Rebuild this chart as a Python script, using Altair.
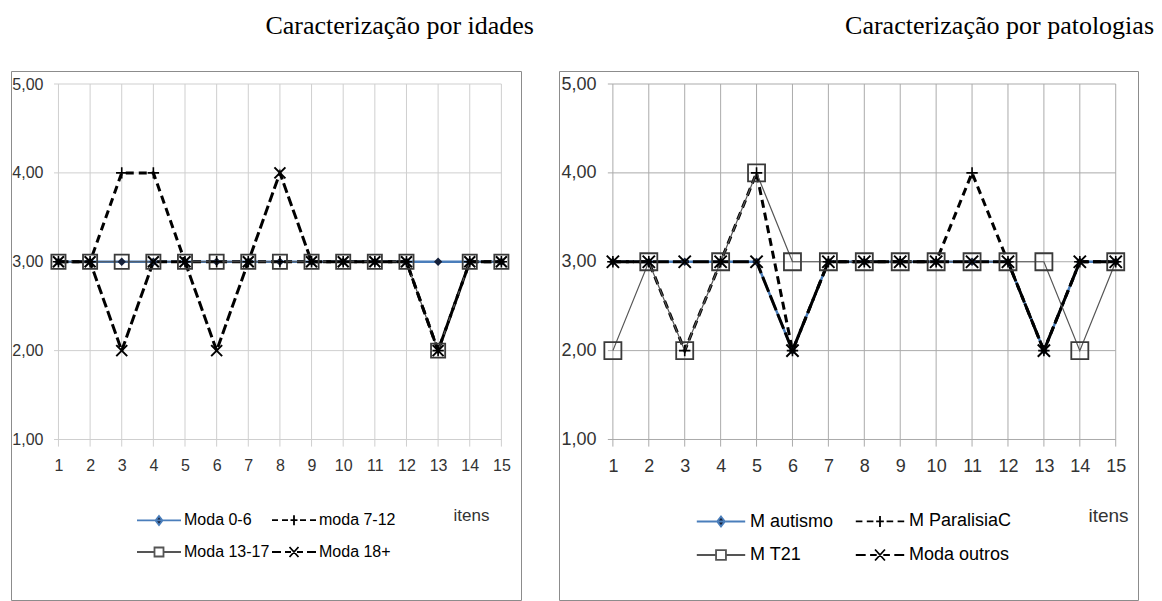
import altair as alt
import pandas as pd

# ---------------- data ----------------
itens = [1, 2, 3, 4, 5, 6, 7, 8, 9, 10, 11, 12, 13, 14, 15]
y_ticks = [1, 2, 3, 4, 5]

idades_series = ["Moda 0-6", "moda 7-12", "Moda 13-17", "Moda 18+"]
moda_0_6 = [3, 3, 3, 3, 3, 3, 3, 3, 3, 3, 3, 3, 3, 3, 3]
moda_7_12 = [3, 3, 4, 4, 3, 3, 3, 3, 3, 3, 3, 3, 2, 3, 3]
moda_13_17 = [3, 3, 3, 3, 3, 3, 3, 3, 3, 3, 3, 3, 2, 3, 3]
moda_18 = [3, 3, 2, 3, 3, 2, 3, 4, 3, 3, 3, 3, 2, 3, 3]

patologias_series = ["M autismo", "M ParalisiaC", "M T21", "Moda outros"]
m_autismo = [3, 3, 3, 3, 3, 2, 3, 3, 3, 3, 3, 3, 2, 3, 3]
m_paralisia = [3, 3, 2, 3, 4, 2, 3, 3, 3, 3, 4, 3, 2, 3, 3]
m_t21 = [2, 3, 2, 3, 4, 3, 3, 3, 3, 3, 3, 3, 3, 2, 3]
moda_outros = [3, 3, 3, 3, 3, 2, 3, 3, 3, 3, 3, 3, 2, 3, 3]


def long_df(names, arrays):
    rows = []
    for n, arr in zip(names, arrays):
        for i, v in zip(itens, arr):
            rows.append({"item": i, "valor": v, "serie": n})
    return pd.DataFrame(rows)


df_idades = long_df(idades_series, [moda_0_6, moda_7_12, moda_13_17, moda_18])
df_pat = long_df(patologias_series, [m_autismo, m_paralisia, m_t21, moda_outros])

# ---------------- styles ----------------
BLUE = "#4a7ebb"
NAVY = "#16213a"
PLUS = "M-1,0H1M0,-1V1"
XSHAPE = "M-1,-1L1,1M-1,1L1,-1"

LEG_PATHS = [
    "M-2.2,0H2.2M0,-0.45L0.35,0L0,0.45L-0.35,0Z",
    "M-2.2,0H-1.6M-1.2,0H-0.6M-0.35,0H0.35M0.6,0H1.2M1.6,0H2.2M0,-0.5V0.5",
    "M-2.2,0H-0.45M0.45,0H2.2M-0.45,-0.45H0.45V0.45H-0.45Z",
    "M-2.2,0H-1.3M-0.9,0H-0.3M0.3,0H0.9M1.3,0H2.2M-0.45,-0.5L0.45,0.5M-0.45,0.5L0.45,-0.5",
]
LEG_STROKES = [BLUE, "black", "#555555", "black"]
LEG_FILLS = [NAVY, "transparent", "white", "transparent"]
# legend is laid out column by column: order entries so rows read 0,1 / 2,3
LEG_ORDER = [0, 2, 1, 3]

XS_DOMAIN = [-0.5, 15.62]
YS_DOMAIN = [-0.806, 5.1463]
VIEW_H = 529


def panel(df, names, width, title, title_dx, font, tick_size, grid_color, dash_b, dash_d,
          sq_size, x_size, leg_x, leg_col_pad, leg_size, leg_label_off, leg_font_size,
          ylab_offset, itens_x, itens_size):
    xs = alt.Scale(domain=XS_DOMAIN, nice=False, zero=False)
    ys = alt.Scale(domain=YS_DOMAIN, nice=False, zero=False)

    AY = alt.Axis(
        values=y_ticks, grid=False, domain=False, ticks=False, title=None,
        labelExpr="replace(format(datum.value, '.2f'), '.', ',')",
        labelFont=font, labelFontSize=tick_size, labelColor="#333333",
        labelOverlap=False, offset=ylab_offset, labelPadding=5)
    AX = alt.Axis(
        values=itens, grid=False, domain=False, ticks=False, format="d",
        labelFont=font, labelFontSize=tick_size, labelColor="#333333",
        labelOverlap=False, labelFlush=False, labelPadding=4,
        offset=-147, title="itens", titleFont=font, titleFontSize=itens_size,
        titleFontWeight="normal", titleColor="#333333",
        titleX=itens_x, titleY=62, titleAlign="center",
        titleBaseline="middle", titleAnchor="start")

    hgrid = alt.Chart(pd.DataFrame({"v": y_ticks})).mark_rule(
        color=grid_color, strokeWidth=1
    ).encode(
        y=alt.Y("v:Q", scale=ys, axis=AY),
        x=alt.XDatum(0.86, axis=AX), x2=alt.datum(15),
    )
    vgrid = alt.Chart(pd.DataFrame({"item": itens})).mark_rule(
        color=grid_color, strokeWidth=1
    ).encode(
        x=alt.X("item:Q", scale=xs, axis=AX),
        y=alt.YDatum(0.92, axis=AY), y2=alt.datum(5),
    )

    base = alt.Chart(df)
    enc = dict(x=alt.X("item:Q", scale=xs, axis=AX),
               y=alt.Y("valor:Q", scale=ys, axis=AY))

    def sel(name):
        return base.transform_filter(alt.datum.serie == name)

    lines = [
        sel(names[0]).mark_line(color=BLUE, strokeWidth=2.5).encode(**enc),
        sel(names[1]).mark_line(color="black", strokeWidth=3, strokeDash=dash_b).encode(**enc),
        sel(names[2]).mark_line(color="#555555", strokeWidth=1.2).encode(**enc),
        sel(names[3]).mark_line(color="black", strokeWidth=3, strokeDash=dash_d).encode(**enc),
    ]
    points = [
        sel(names[0]).mark_point(shape="diamond", filled=True, color=NAVY, size=70,
                                 opacity=1).encode(**enc),
        sel(names[1]).mark_point(shape=PLUS, filled=False, color="black", strokeWidth=1.6,
                                 size=130, opacity=1).encode(**enc),
        sel(names[2]).mark_point(shape="square", filled=False, color="#3a3a3a",
                                 strokeWidth=1.8, size=sq_size, opacity=1).encode(**enc),
        sel(names[3]).mark_point(shape=XSHAPE, filled=False, color="black", strokeWidth=2,
                                 size=x_size, opacity=1).encode(**enc),
    ]

    leg = alt.Legend(
        orient="none", legendX=leg_x, legendY=438, columns=2, title=None,
        symbolSize=leg_size, symbolStrokeWidth=1.8, symbolOpacity=1, symbolOffset=0,
        labelFont=font, labelFontSize=leg_font_size, labelColor="black",
        labelOffset=leg_label_off, columnPadding=leg_col_pad, rowPadding=12,
        padding=0, labelLimit=0,
    )
    dom = [names[k] for k in LEG_ORDER]
    legend_layer = base.transform_filter("datum.valor > 99").mark_point(
        filled=True, opacity=1, strokeWidth=1.8
    ).encode(
        x=alt.X("item:Q", scale=xs, axis=AX),
        y=alt.Y("valor:Q", scale=ys, axis=AY),
        shape=alt.Shape("serie:N", scale=alt.Scale(
            domain=dom, range=[LEG_PATHS[k] for k in LEG_ORDER]), legend=leg),
        stroke=alt.Stroke("serie:N", scale=alt.Scale(
            domain=dom, range=[LEG_STROKES[k] for k in LEG_ORDER]), legend=leg),
        fill=alt.Fill("serie:N", scale=alt.Scale(
            domain=dom, range=[LEG_FILLS[k] for k in LEG_ORDER]), legend=leg),
    )

    return alt.layer(hgrid, vgrid, *lines, *points, legend_layer).properties(
        width=width, height=VIEW_H,
        title=alt.Title(title, font="Liberation Serif", fontSize=26, fontWeight="normal",
                        color="black", anchor="end", frame="group", dx=title_dx, offset=32),
    )


left = panel(df_idades, idades_series, 510, "Caracterização por idades", 13,
             "Liberation Sans, sans-serif", 16, "#cfcfcf",
             [8, 5], [10, 4], 200, 120,
             leg_x=137, leg_col_pad=-2, leg_size=400, leg_label_off=14, leg_font_size=16,
             ylab_offset=-37, itens_x=460, itens_size=17)
right = panel(df_pat, patologias_series, 579, "Caracterização por patologias", 16,
              "Liberation Sans, sans-serif", 18, "#ababab",
              [8, 5], [16, 4], 290, 150,
              leg_x=150, leg_col_pad=18, leg_size=484, leg_label_off=17, leg_font_size=18,
              ylab_offset=-42, itens_x=549, itens_size=19)

chart = alt.hconcat(left, right, spacing=38, bounds="flush").resolve_scale(
    shape="independent", stroke="independent", fill="independent"
).resolve_legend(
    shape="independent", stroke="independent", fill="independent"
).properties(
    padding={"left": 10, "top": 12, "right": 0, "bottom": 0},
    background="white",
).configure_view(
    stroke="#8c8c8c", strokeWidth=1, fill="white"
).configure_axis(labelOverlap=False)

chart.save("out.html", embed_options={"renderer": "svg", "actions": False})
